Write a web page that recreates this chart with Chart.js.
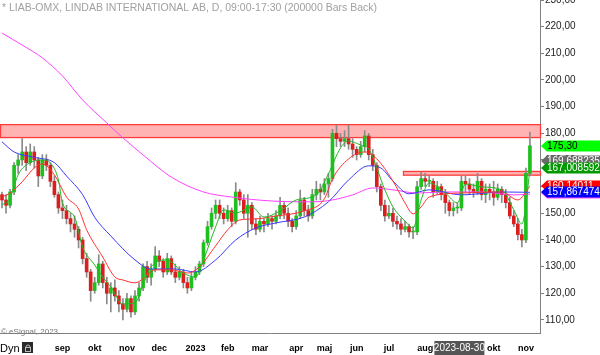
<!DOCTYPE html>
<html><head><meta charset="utf-8">
<script src="https://cdn.jsdelivr.net/npm/chart.js@4"></script>
<style>html,body{margin:0;padding:0;background:#fff;overflow:hidden}#wrap{width:600px;height:355px;position:relative}</style>
</head><body><div id="wrap"><canvas id="c" width="600" height="355"></canvas></div>
<script>
// ---------- DATA ----------
const slotCount = 134;
const monthTickIdx = [15, 23, 31, 39, 48, 56, 64, 73, 80, 88, 96, 105, 113, 122, 130];
const monthTickText = ['sep','okt','nov','dec','2023','feb','mar','apr','maj','jun','jul','aug','sep','okt','nov'];

const opens = [157,155,153,158,168,170,173,169,173,170,164,170,168,162,157,152,151,148,146,144,
  140,133,128,121,124,131,124,120,122,119,116,114,118,113,119,122,130,126,129,134,
  132,128,133,128,126,128,124,122,126,128,131,139,145,150,153,150,148,151,147,158,
  155,150,153,146,144,147,146,148,147,149,153,150,147,145,149,155,151,149,157,159,
  158,161,163,180,178,177,178,176,174,172,175,179,172,168,160,153,149,150,147,146,
  144,145,143,143,160,163,162,162,158,160,157,154,151,152,152,162,161,159,158,162,
  157,159,158,156,159,157,154,149,146,142,140,165];
const highs = [158,157,159,169,172,178,175,176,175,171,172,172,169,164,158,155,153,150,149,145,
  141,135,129,126,134.5,132,126,124,125,121,118,120,119,121,124,131,132,131,137.5,136,
  133,135,134,131,130,129,126,128,130,132,140,147,152,155,155,152,153,152,161.5,159,
  157,157,154,148,149,148,150,149,151,156,154,152,148,151,158.7,156,153,159,162,161,
  163,165,181.5,183,180,181,183,178,175,177,181,180,174,169,161,155,153,152,149,148,
  147,146,145,162,165.5,165,164,163,162,161,159,155,154,154,164,164,163,161,165,163,
  161,161,162,161,160,159,156,151,148,144,167,180.5];
const lows = [152,150,152,157,165,168,166,168,167,160,163,166,160,156,150,148,146,143,141,137,
  131,126,117,120,123,122,116,113,117,113,110,113,111,112,117,121,124,123,128,130,
  126,127,127,124,125,122,120,121,125,127,130,138,144,148,148,146,147,145,146,153,
  148,141,144,142,143,143,145,144,146,148,148,145,143,144,148,149,147,148,155,155,
  157,156,162,175,175,175,174,171,170,171,173,170,166,158,151,147,148,145,144,142,
  143,141,140.5,142,159,160,160,156,157,155,150,149,149,150,151,158,157,156,157,155,
  154,155,153,155,154,152,148,145,140,137.4,139,164];
const closes = [155,153,158,168,170,173,169,173,170,164,170,168,162,157,152,151,148,146,144,140,
  133,128,121,124,131,124,120,122,119,116,114,118,113,119,122,130,126,129,134,132,
  128,133,128,126,128,124,122,126,128,131,139,145,150,153,150,148,151,147,158,155,
  150,153,146,144,147,146,148,147,149,153,150,147,145,149,155,151,149,157,159,158,
  161,163,180,178,177,178,176,174,172,175,179,172,168,160,153,149,150,147,146,144,
  145,143,143,160,163,162,162,158,160,157,154,151,152,152,162,161,159,158,162,157,
  159,158,156,159,157,154,149,146,142,140,165,175.3];

const ma10Idx = [0,2,4,6,10,12,14,15,18,20,23,25,27,30,33,35,37,41,45,48,50,53,55,58,62,65,69,73,78,81,84,86,89,91,95,97,100,102,104,106,110,113,115,119,124,127,129,130,131];
const ma10 = [153.1,155.8,164.4,168.1,170.0,168.9,162.5,153.9,148.6,137.4,130.6,126.1,122.4,116.0,116.4,123.1,129.9,132.5,127.6,126.1,132.5,144.9,151.3,150.1,152.4,148.6,150.9,155.0,156.9,164.8,174.5,177.1,175.6,174.1,158.8,152.4,147.1,144.5,155.0,161.4,157.6,153.9,161.0,159.9,158.8,151.3,146.0,153.0,167.0];
const ma20Idx = [0,2,5,8,10,13,16,19,21,25,28,30,33,35,38,42,46,49,53,56,59,63,68,75,80,82,86,90,93,97,100,102,104,106,114,124,128,131];
const ma20 = [156.1,157.6,161.8,167.0,168.5,164.4,156.1,151.6,143.8,133.6,126.1,125.0,123.9,125.4,128.8,128.8,127.6,129.9,137.8,143.8,147.5,147.9,149.0,150.9,155.4,162.9,170.4,173.0,170.4,162.1,153.9,149.8,152.4,156.1,157.6,158.0,155.0,160.14];
const ma50Idx = [0,3,8,13,16,20,23,27,33,37,43,48,53,58,63,68,75,81,86,91,94,97,101,106,114,124,131];
const ma50 = [176.8,173.0,171.0,169.0,164.0,157.0,148.5,141.5,132.5,129.1,129.1,128.0,132.5,140.0,144.5,146.4,148.6,154.3,162.5,167.8,167.0,162.1,157.3,158.8,156.9,158.0,157.87];
const ma200Idx = [0,5,10,15,20,26,30,35,42,50,57,67,77,82,87,92,97,103,110,119,127,131];
const ma200 = [217.6,213.1,208.3,201.5,192.5,183.9,178.3,171.9,163.6,158.0,156.1,154.6,154.3,155.0,156.9,159.5,158.8,157.6,158.0,158.0,156.9,157.2];

const yTicks = [110,120,130,140,150,160,170,180,190,200,210,220,230];
const zoneStart = [-0.5, 99.5];
const zoneLow = [178.4, 164.3];
const zoneHigh = [183.25, 165.7];
const tagValues = [175.30, 169.688235, 167.008592, 157.5, 160.14011, 157.867474];
const tagLabels = ['175,30', '169,688235', '167,008592', '', '160,14011', '157,867474'];
const crossDateIdx = 113.5;
const crossDateText = '2023-08-30';

// ---------- BUILD ----------
const labels = Array.from({length: slotCount}, () => '');
monthTickIdx.forEach((k, j) => { labels[k] = monthTickText[j]; });
const sparse = (idx, vals) => { const a = new Array(slotCount).fill(null); idx.forEach((k, j) => { a[k] = vals[j]; }); return a; };
const wickData = highs.map((h, i) => [lows[i], h]);
const bodyData = opens.map((o, i) => [Math.min(o, closes[i]), Math.max(o, closes[i])]);
const bodyColors = opens.map((o, i) => closes[i] >= o ? '#1fbf1f' : '#d91f1f');

const tagStyle = [
  {bg:'#00ff00', fg:'#000'}, {bg:'#6a6a6a', fg:'#fff'}, {bg:'#009a00', fg:'#fff'},
  {bg:'#ff55ff', fg:'#fff'}, {bg:'#ff0000', fg:'#fff'}, {bg:'#0000ff', fg:'#fff'}];

Chart.defaults.font.family = "'Liberation Sans', Arial, sans-serif";

const overlay = {
  id: 'overlay',
  beforeDatasetsDraw(chart) {
    const {ctx, chartArea: a, scales: {x, y}} = chart;
    ctx.save();
    zoneLow.forEach((lo, j) => {
      const x0 = Math.max(a.left, x.getPixelForValue(zoneStart[j]));
      const t = y.getPixelForValue(zoneHigh[j]), b = y.getPixelForValue(lo);
      ctx.fillStyle = '#ffb3b3';
      ctx.fillRect(x0, t, a.right - x0, b - t);
      ctx.strokeStyle = '#ff3c3c';
      ctx.lineWidth = 1.3;
      ctx.strokeRect(x0 + 0.5, t, a.right - x0, b - t);
    });
    ctx.restore();
  },
  afterDraw(chart) {
    const {ctx, chartArea: a, scales: {x, y}} = chart;
    ctx.save();
    // title
    ctx.font = "10.5px 'Liberation Sans', Arial, sans-serif";
    ctx.fillStyle = '#a0a0a0';
    ctx.textBaseline = 'alphabetic';
    ctx.textAlign = 'left';
    ctx.fillText('* LIAB-OMX, LINDAB INTERNATIONAL AB, D, 09:00-17:30 (200000 Bars Back)', 2, 11);
    ctx.font = "8px 'Liberation Sans', Arial, sans-serif";
    ctx.fillStyle = '#777';
    ctx.fillText('\u00A9 eSignal, 2023', 1, 334);
    // tags
    ctx.font = "10px 'Liberation Sans', Arial, sans-serif";
    ctx.textBaseline = 'middle';
    tagValues.forEach((v, j) => {
      const py = Math.round(y.getPixelForValue(v));
      ctx.fillStyle = tagStyle[j].bg;
      ctx.beginPath();
      ctx.moveTo(a.right + 1, py);
      ctx.lineTo(a.right + 7, py - 5.5);
      ctx.lineTo(600, py - 5.5);
      ctx.lineTo(600, py + 5.5);
      ctx.lineTo(a.right + 7, py + 5.5);
      ctx.closePath();
      ctx.fill();
      if (tagLabels[j]) {
        ctx.fillStyle = tagStyle[j].fg;
        ctx.fillText(tagLabels[j], a.right + 7, py + 0.5);
      }
    });
    // crosshair date box
    const cx = x.getPixelForValue(crossDateIdx);
    ctx.fillStyle = '#555555';
    ctx.fillRect(cx - 25, 341, 50, 14);
    ctx.fillStyle = '#fff';
    ctx.font = "10px 'Liberation Sans', Arial, sans-serif";
    ctx.textAlign = 'center';
    ctx.fillText(crossDateText, cx, 348.5);
    // Dyn + lock
    ctx.textAlign = 'left';
    ctx.fillStyle = '#000';
    ctx.font = "11px 'Liberation Sans', Arial, sans-serif";
    ctx.fillText('Dyn', 0, 349);
    ctx.fillStyle = '#2a2a2a';
    ctx.fillRect(22, 342, 11, 11);
    ctx.strokeStyle = '#bbb';
    ctx.lineWidth = 1;
    ctx.strokeRect(25.5, 347.5, 5, 4);
    ctx.beginPath();
    ctx.arc(28, 347, 2, Math.PI, 0);
    ctx.stroke();
    ctx.restore();
  }
};

const lineDs = (data, color, order) => ({
  type: 'line', data, borderColor: color, borderWidth: 1, pointRadius: 0,
  spanGaps: true, cubicInterpolationMode: 'monotone', order, fill: false
});

const zeroPad = s => { s.paddingLeft = 0; s.paddingRight = 0; s.paddingTop = 0; s.paddingBottom = 0; };

new Chart(document.getElementById('c'), {
  type: 'bar',
  data: {
    labels,
    datasets: [
      {data: wickData, backgroundColor: '#8a8a8a', barThickness: 1, grouped: false, order: 10, borderWidth: 0},
      {data: bodyData, backgroundColor: bodyColors, barThickness: 3, grouped: false, order: 9, borderWidth: 0, minBarLength: 1},
      lineDs(sparse(ma200Idx, ma200), '#ff40ff', 4),
      lineDs(sparse(ma50Idx, ma50), '#3a3aff', 3),
      lineDs(sparse(ma20Idx, ma20), '#ff3030', 2),
      lineDs(sparse(ma10Idx, ma10), '#22b822', 1)
    ]
  },
  options: {
    responsive: false,
    animation: false,
    devicePixelRatio: 1,
    layout: {padding: 0, autoPadding: false},
    plugins: {legend: {display: false}, tooltip: {enabled: false}},
    scales: {
      x: {
        type: 'category', offset: true,
        grid: {display: true, drawOnChartArea: false, drawTicks: false},
        border: {display: true, color: '#808080'},
        ticks: {autoSkip: false, maxRotation: 0, minRotation: 0, padding: 10, color: '#000',
          font: {size: 9, weight: 'bold'}},
        afterFit: s => { s.height = 22; zeroPad(s); }
      },
      y: {
        type: 'linear', position: 'right', min: 105.1, max: 230,
        grid: {drawOnChartArea: false, drawTicks: true, tickLength: 4, color: '#808080'},
        border: {display: true, color: '#808080'},
        afterBuildTicks: s => { s.ticks = yTicks.map(v => ({value: v})); },
        ticks: {padding: 1, color: '#222', font: {size: 10},
          callback: v => v.toFixed(2).replace('.', ',')},
        afterFit: s => { s.width = 60; zeroPad(s); }
      }
    }
  },
  plugins: [overlay]
});
</script>
</body></html>
